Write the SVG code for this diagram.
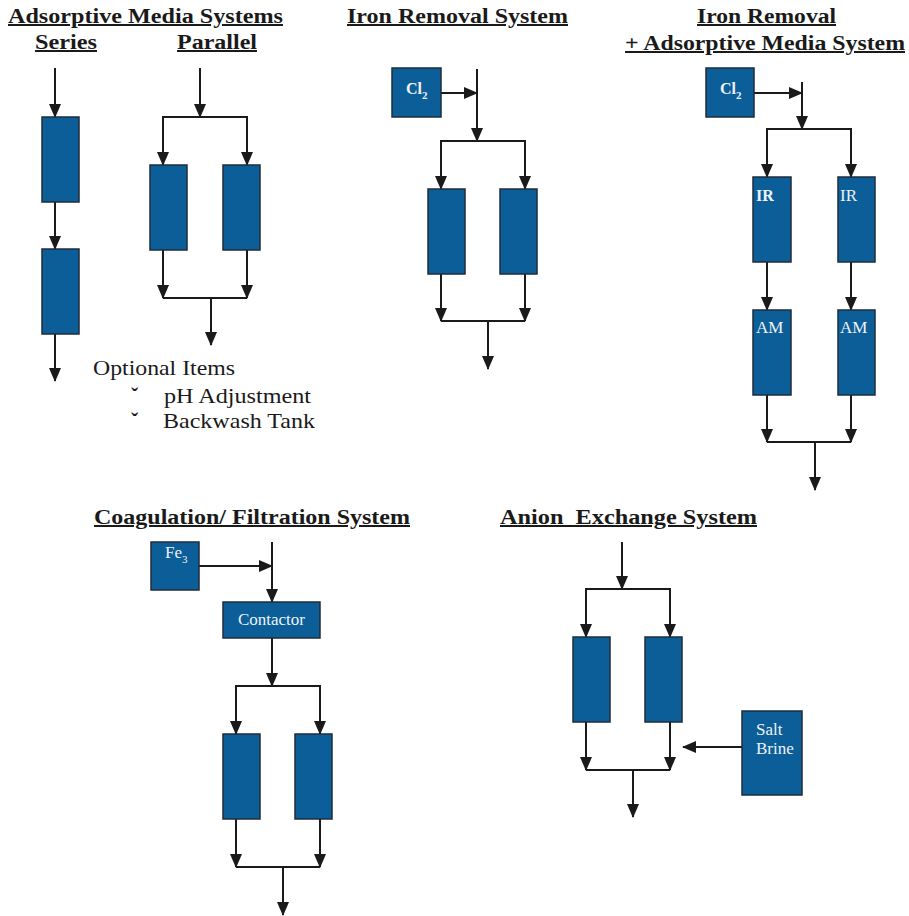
<svg xmlns="http://www.w3.org/2000/svg" width="909" height="916" viewBox="0 0 909 916">
<style>
text{font-family:'Liberation Serif','DejaVu Serif',serif;}
.title{font-weight:bold;font-size:20px;fill:#1a1a1a;text-decoration:underline;}
.txt{font-size:22px;fill:#1a1a1a;}
.box{fill:#0c5e99;stroke:#1f2d3a;stroke-width:1.5;}
.lbl{font-size:17px;fill:#eef2f6;}
.lblb{font-size:16px;font-weight:bold;fill:#eef2f6;}
.conn path{fill:none;stroke:#1a1a1a;stroke-width:2;}
.conn path.a{marker-end:url(#arr);}
</style>
<defs>
<marker id="arr" viewBox="0 0 14 12" refX="13" refY="6" markerWidth="14" markerHeight="12" markerUnits="userSpaceOnUse" orient="auto">
<path d="M0,0 L14,6 L0,12 Z" fill="#1a1a1a"/>
</marker>
</defs>
<rect width="909" height="916" fill="#ffffff"/>

<g id="titles" font-family="Liberation Serif, serif">
<text class="title" x="8" y="23" textLength="275" lengthAdjust="spacingAndGlyphs">Adsorptive Media Systems</text>
<text class="title" x="35" y="49" textLength="62" lengthAdjust="spacingAndGlyphs">Series</text>
<text class="title" x="177" y="49" textLength="80" lengthAdjust="spacingAndGlyphs">Parallel</text>
<text class="title" x="347" y="23" textLength="221" lengthAdjust="spacingAndGlyphs">Iron Removal System</text>
<text class="title" x="697" y="23" textLength="139" lengthAdjust="spacingAndGlyphs">Iron Removal</text>
<text class="title" x="625" y="50" textLength="280" lengthAdjust="spacingAndGlyphs">+ Adsorptive Media System</text>
<text class="title" x="94" y="524" textLength="316" lengthAdjust="spacingAndGlyphs">Coagulation/ Filtration System</text>
<text class="title" x="500" y="524" textLength="257" lengthAdjust="spacingAndGlyphs" xml:space="preserve">Anion  Exchange System</text>
</g>

<g id="optional">
<text class="txt" x="93" y="375" textLength="142" lengthAdjust="spacingAndGlyphs">Optional Items</text>
<text class="txt" x="131" y="403" font-weight="bold">ˇ</text>
<text class="txt" x="164" y="403" textLength="147" lengthAdjust="spacingAndGlyphs">pH Adjustment</text>
<text class="txt" x="131" y="428" font-weight="bold">ˇ</text>
<text class="txt" x="163" y="428" textLength="152" lengthAdjust="spacingAndGlyphs">Backwash Tank</text>
</g>

<g class="conn" id="connectors">
<path class="a" d="M55,68 V117"/>
<path class="a" d="M55,202 V249"/>
<path class="a" d="M55,334 V381"/>
<path class="a" d="M200,68 V117"/>
<path class="a" d="M200,117 H163 V165"/>
<path class="a" d="M200,117 H247 V165"/>
<path class="a" d="M163,250 V298"/>
<path class="a" d="M247,250 V298"/>
<path d="M163,298 H247"/>
<path class="a" d="M211,298 V345"/>
<path class="a" d="M441,93 H477"/>
<path class="a" d="M477,69 V141"/>
<path class="a" d="M477,141 H441 V189"/>
<path class="a" d="M477,141 H525 V189"/>
<path class="a" d="M441,274 V321"/>
<path class="a" d="M525,274 V321"/>
<path d="M441,321 H525"/>
<path class="a" d="M488,321 V369"/>
<path class="a" d="M754,93 H802"/>
<path class="a" d="M802,82 V129"/>
<path class="a" d="M802,129 H767 V177"/>
<path class="a" d="M802,129 H851 V177"/>
<path class="a" d="M767,262 V310"/>
<path class="a" d="M851,262 V310"/>
<path class="a" d="M767,395 V442"/>
<path class="a" d="M851,395 V442"/>
<path d="M767,442 H851"/>
<path class="a" d="M815,442 V490"/>
<path class="a" d="M199,566 H272"/>
<path class="a" d="M272,542 V602"/>
<path class="a" d="M272,638 V686"/>
<path class="a" d="M272,686 H236 V734"/>
<path class="a" d="M272,686 H320 V734"/>
<path class="a" d="M236,819 V867"/>
<path class="a" d="M320,819 V867"/>
<path d="M236,867 H320"/>
<path class="a" d="M283,867 V915"/>
<path class="a" d="M622,542 V589"/>
<path class="a" d="M622,589 H586 V637"/>
<path class="a" d="M622,589 H670 V637"/>
<path class="a" d="M586,722 V770"/>
<path class="a" d="M670,722 V770"/>
<path d="M586,770 H670"/>
<path class="a" d="M633,770 V817"/>
<path class="a" d="M742,747 H683"/>
</g>

<g id="series-1"><rect class="box" x="42" y="117" width="37" height="85"/></g>
<g id="series-2"><rect class="box" x="42" y="249" width="37" height="85"/></g>
<g id="parallel-1"><rect class="box" x="150" y="165" width="37" height="85"/></g>
<g id="parallel-2"><rect class="box" x="223" y="165" width="37" height="85"/></g>

<g id="ir-cl2"><rect class="box" x="392" y="68" width="49" height="49"/>
<text class="lblb" x="406" y="94">Cl<tspan font-size="11" dy="5">2</tspan></text></g>
<g id="ir-1"><rect class="box" x="428" y="189" width="37" height="85"/></g>
<g id="ir-2"><rect class="box" x="500" y="189" width="37" height="85"/></g>

<g id="iram-cl2"><rect class="box" x="706" y="68" width="48" height="49"/>
<text class="lblb" x="720" y="94">Cl<tspan font-size="11" dy="5">2</tspan></text></g>
<g id="iram-ir1"><rect class="box" x="753" y="177" width="38" height="85"/>
<text class="lblb" x="756" y="201" font-size="17">IR</text></g>
<g id="iram-ir2"><rect class="box" x="838" y="177" width="37" height="85"/>
<text class="lbl" x="840" y="201">IR</text></g>
<g id="iram-am1"><rect class="box" x="753" y="310" width="38" height="85"/>
<text class="lbl" x="756" y="333">AM</text></g>
<g id="iram-am2"><rect class="box" x="838" y="310" width="37" height="85"/>
<text class="lbl" x="840" y="333">AM</text></g>

<g id="cf-fe3"><rect class="box" x="151" y="542" width="48" height="48"/>
<text class="lbl" x="165" y="558" font-size="16">Fe<tspan font-size="11" dy="5">3</tspan></text></g>
<g id="cf-contactor"><rect class="box" x="223" y="602" width="97" height="36"/>
<text class="lbl" x="271.5" y="625" text-anchor="middle" font-size="16.5">Contactor</text></g>
<g id="cf-1"><rect class="box" x="223" y="734" width="37" height="85"/></g>
<g id="cf-2"><rect class="box" x="295" y="734" width="37" height="85"/></g>

<g id="ax-1"><rect class="box" x="573" y="637" width="37" height="85"/></g>
<g id="ax-2"><rect class="box" x="645" y="637" width="37" height="85"/></g>
<g id="ax-brine"><rect class="box" x="742" y="711" width="60" height="84"/>
<text class="lbl" x="756" y="735">Salt</text>
<text class="lbl" x="756" y="754">Brine</text></g>
</svg>
